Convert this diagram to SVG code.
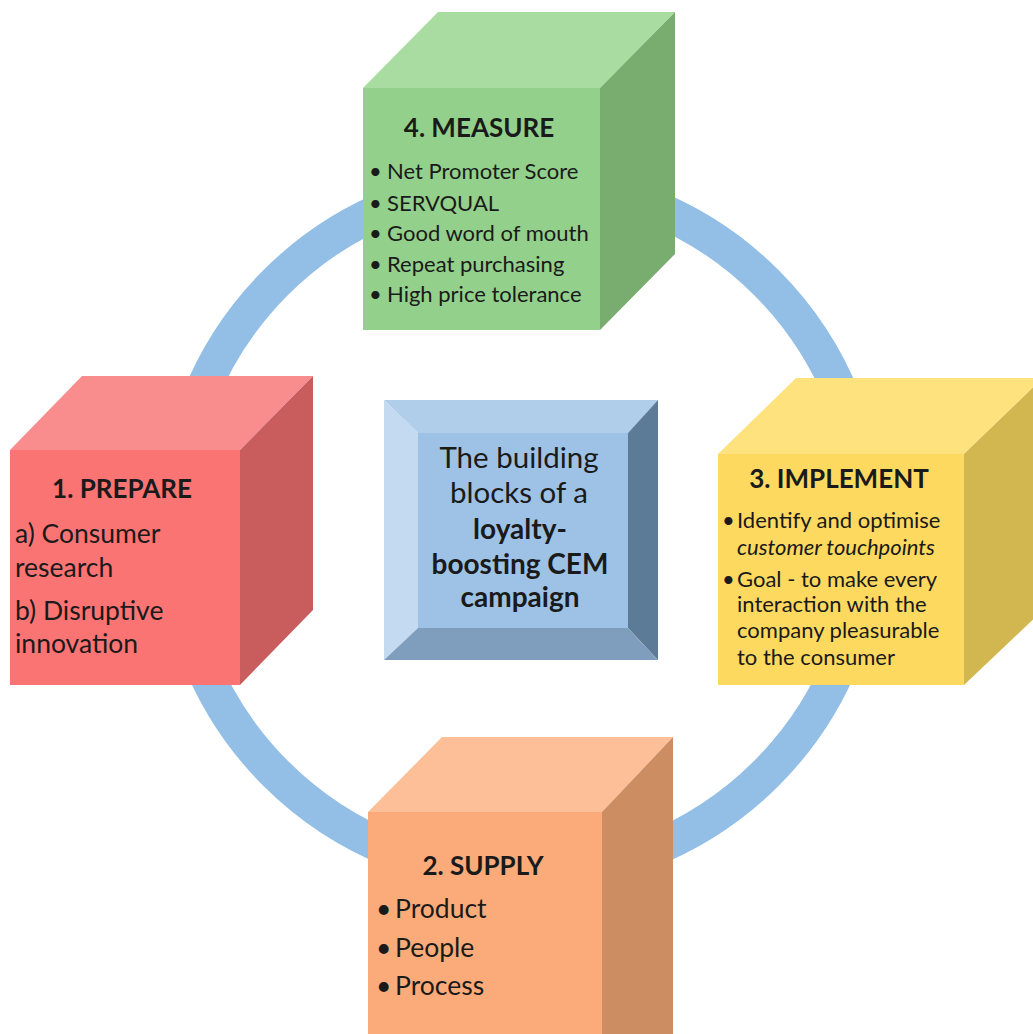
<svg xmlns="http://www.w3.org/2000/svg" width="1033" height="1034" viewBox="0 0 1033 1034">
<style>
.t{font-family:Lato,"Open Sans","Liberation Sans",sans-serif;fill:#1a1a1a}
.h{font-weight:bold;font-size:26px}
.b{font-size:22px}
.r{font-size:26.5px}
.c{font-size:29.5px;text-anchor:middle}
.bd{font-weight:bold;font-size:28px}
</style>
<rect width="1033" height="1034" fill="#ffffff"/>
<g id="connectors">
<circle cx="521" cy="528" r="347" fill="none" stroke="#93bfe6" stroke-width="35"/>
</g>
<g id="center">
<polygon points="384,400 658,400 628,433 418,433" fill="#b0cdea"/>
<polygon points="384,400 418,433 418,628 384,660" fill="#c3daf0"/>
<polygon points="658,400 658,660 628,628 628,433" fill="#5b7b96"/>
<polygon points="384,660 418,628 628,628 658,660" fill="#7f9ebd"/>
<rect x="418" y="433" width="210" height="195" fill="#9dc2e5"/>
<text class="t c" x="519" y="468">The building</text>
<text class="t c" x="519" y="503">blocks of a</text>
<text class="t c bd" x="520" y="539">loyalty-</text>
<text class="t c bd" x="520" y="574">boosting CEM</text>
<text class="t c bd" x="520" y="607">campaign</text>
</g>
<g id="measure">
<polygon points="363,88 438,12 675,12 600,88" fill="#a9dca0"/>
<polygon points="600,88 675,12 675,254 600,330" fill="#79ad6f"/>
<rect x="363" y="88" width="237" height="242" fill="#93d08b"/>
<text class="t h" x="479" y="137" text-anchor="middle">4. MEASURE</text>
<g class="t b">
<text x="369" y="179">•</text><text x="387" y="179">Net Promoter Score</text>
<text x="369" y="211">•</text><text x="387" y="211">SERVQUAL</text>
<text x="369" y="241">•</text><text x="387" y="241">Good word of mouth</text>
<text x="369" y="272">•</text><text x="387" y="272">Repeat purchasing</text>
<text x="369" y="302">•</text><text x="387" y="302">High price tolerance</text>
</g>
</g>
<g id="prepare">
<polygon points="10,450 82,376 313,376 240,450" fill="#f98c8c"/>
<polygon points="240,450 313,376 313,610 240,685" fill="#c95c5c"/>
<rect x="10" y="450" width="230" height="235" fill="#fa7474"/>
<text class="t h" x="122" y="498" text-anchor="middle">1. PREPARE</text>
<g class="t r">
<text x="15" y="543">a) Consumer</text>
<text x="15" y="577">research</text>
<text x="15" y="620">b) Disruptive</text>
<text x="15" y="653">innovation</text>
</g>
</g>
<g id="implement">
<polygon points="718,454 796,378 1043,378 964,454" fill="#fde27e"/>
<polygon points="964,454 1043,378 1043,610 964,685" fill="#d2b64f"/>
<rect x="718" y="454" width="246" height="231" fill="#fdd95f"/>
<text class="t h" x="839" y="488" text-anchor="middle">3. IMPLEMENT</text>
<g class="t b">
<text x="722" y="528">•</text><text x="737" y="528">Identify and optimise</text>
<text x="737" y="555" font-style="italic">customer touchpoints</text>
<text x="722" y="587">•</text><text x="737" y="587">Goal - to make every</text>
<text x="737" y="612">interaction with the</text>
<text x="737" y="638">company pleasurable</text>
<text x="737" y="665">to the consumer</text>
</g>
</g>
<g id="supply">
<polygon points="368,812 442,737 673,737 602,812" fill="#fcbf98"/>
<polygon points="602,812 673,737 673,1034 602,1034" fill="#cd8d62"/>
<rect x="368" y="812" width="234" height="222" fill="#fbab79"/>
<text class="t h" x="483" y="875" text-anchor="middle">2. SUPPLY</text>
<g class="t r">
<text x="376" y="918">•</text><text x="395" y="918">Product</text>
<text x="376" y="957">•</text><text x="395" y="957">People</text>
<text x="376" y="995">•</text><text x="395" y="995">Process</text>
</g>
</g>
</svg>
